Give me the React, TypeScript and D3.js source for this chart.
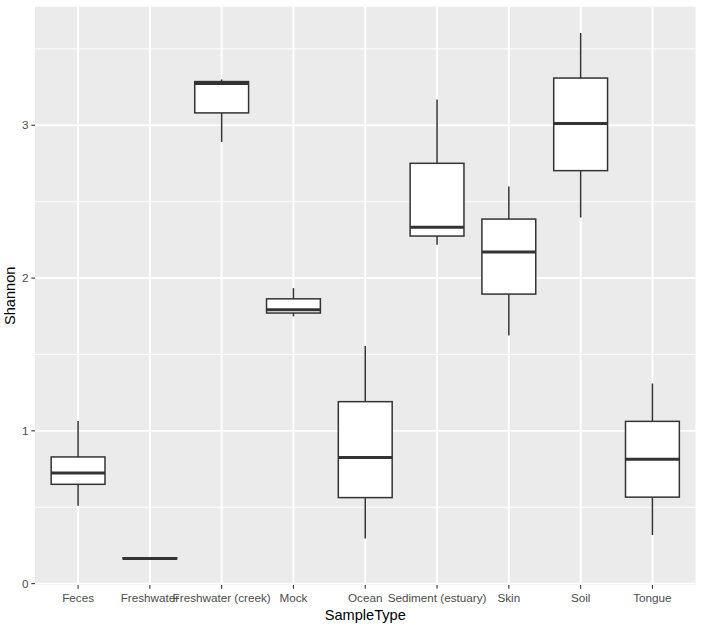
import React from "react";
import * as d3 from "d3";

const categories = [
  "Feces",
  "Freshwater",
  "Freshwater (creek)",
  "Mock",
  "Ocean",
  "Sediment (estuary)",
  "Skin",
  "Soil",
  "Tongue",
];
const whiskerLow = [0.51, 0.163, 2.891, 1.749, 0.296, 2.218, 1.624, 2.396, 0.318];
const q1 = [0.65, 0.163, 3.081, 1.771, 0.563, 2.275, 1.895, 2.703, 0.566];
const medians = [0.724, 0.165, 3.273, 1.792, 0.825, 2.332, 2.17, 3.011, 0.814];
const q3 = [0.829, 0.168, 3.286, 1.864, 1.191, 2.751, 2.386, 3.309, 1.062];
const whiskerHigh = [1.065, 0.168, 3.3, 1.934, 1.556, 3.168, 2.6, 3.604, 1.31];
const yMajorTicks = [0, 1, 2, 3];
const yMinorTicks = [0.5, 1.5, 2.5, 3.5];

const W = 702;
const H = 631;
const panel = { left: 35, right: 695.5, top: 6.7, bottom: 585 };

export default function App() {
  const dmin = d3.min(whiskerLow) as number;
  const dmax = d3.max(whiskerHigh) as number;
  const pad = (dmax - dmin) * 0.05;
  const y = d3.scaleLinear().domain([dmin - pad, dmax + pad]).range([panel.bottom, panel.top]);
  const x = d3
    .scaleLinear()
    .domain([0.4, categories.length + 0.6])
    .range([panel.left, panel.right]);
  const step = x(2) - x(1);
  const boxW = step * 0.75;
  const tickLen = 3.67;
  const font = "'Liberation Sans', Arial, Helvetica, sans-serif";

  return (
    <svg
      width={W}
      height={H}
      style={{ position: "absolute", left: 0, top: 0, background: "#fff" }}
      fontFamily={font}
    >
      <rect
        x={panel.left}
        y={panel.top}
        width={panel.right - panel.left}
        height={panel.bottom - panel.top}
        fill="#EBEBEB"
      />
      {yMinorTicks.map((t) => (
        <line
          key={"mn" + t}
          x1={panel.left}
          x2={panel.right}
          y1={y(t)}
          y2={y(t)}
          stroke="#fff"
          strokeWidth={0.95}
        />
      ))}
      {yMajorTicks.map((t) => (
        <line
          key={"mj" + t}
          x1={panel.left}
          x2={panel.right}
          y1={y(t)}
          y2={y(t)}
          stroke="#fff"
          strokeWidth={1.9}
        />
      ))}
      {categories.map((c, i) => (
        <line
          key={"vg" + c}
          x1={x(i + 1)}
          x2={x(i + 1)}
          y1={panel.top}
          y2={panel.bottom}
          stroke="#fff"
          strokeWidth={1.9}
        />
      ))}
      {categories.map((c, i) => {
        const cx = x(i + 1);
        return (
          <g key={"box" + c} stroke="#333333" fill="none">
            <line x1={cx} x2={cx} y1={y(whiskerHigh[i])} y2={y(q3[i])} strokeWidth={1.5} />
            <line x1={cx} x2={cx} y1={y(q1[i])} y2={y(whiskerLow[i])} strokeWidth={1.5} />
            <rect
              x={cx - boxW / 2}
              y={y(q3[i])}
              width={boxW}
              height={Math.max(0, y(q1[i]) - y(q3[i]))}
              fill="#fff"
              strokeWidth={1.5}
            />
            <line
              x1={cx - boxW / 2}
              x2={cx + boxW / 2}
              y1={y(medians[i])}
              y2={y(medians[i])}
              strokeWidth={3}
            />
          </g>
        );
      })}
      {/* y axis ticks */}
      {yMajorTicks.map((t) => (
        <g key={"yt" + t}>
          <line
            x1={panel.left - tickLen}
            x2={panel.left}
            y1={y(t)}
            y2={y(t)}
            stroke="#333333"
            strokeWidth={1.1}
          />
          <text
            x={panel.left - tickLen - 2.9}
            y={y(t)}
            dy="0.35em"
            textAnchor="end"
            fontSize={11.7}
            fill="#4D4D4D"
          >
            {t}
          </text>
        </g>
      ))}
      {/* x axis ticks */}
      {categories.map((c, i) => (
        <g key={"xt" + c}>
          <line
            x1={x(i + 1)}
            x2={x(i + 1)}
            y1={panel.bottom}
            y2={panel.bottom + tickLen}
            stroke="#333333"
            strokeWidth={1.1}
          />
          <text x={x(i + 1)} y={602} textAnchor="middle" fontSize={11.7} fill="#4D4D4D">
            {c}
          </text>
        </g>
      ))}
      <text
        x={(panel.left + panel.right) / 2}
        y={620}
        textAnchor="middle"
        fontSize={14.6}
        fill="#000"
      >
        SampleType
      </text>
      <text
        transform={`translate(14.5, ${(panel.top + panel.bottom) / 2}) rotate(-90)`}
        textAnchor="middle"
        fontSize={14.6}
        fill="#000"
      >
        Shannon
      </text>
    </svg>
  );
}
